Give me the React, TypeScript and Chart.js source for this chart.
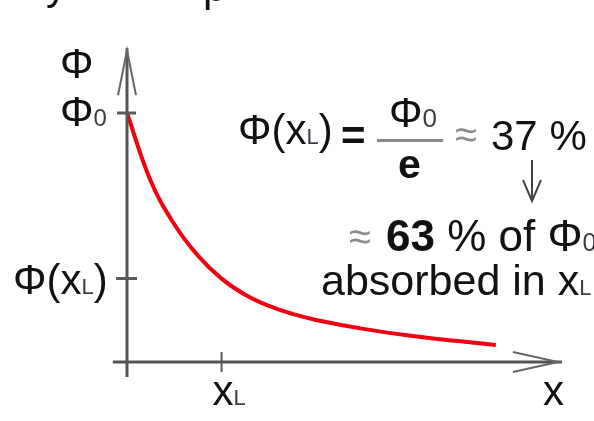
import React, { useEffect, useRef } from "react";
import { Chart, registerables } from "chart.js";

Chart.register(...registerables);

// Penetration depth in units of x_L, and the relative flux Φ/Φ0 at that depth
const depth: number[] = [0, 0.25, 0.5, 0.75, 1, 1.25, 1.5, 1.75, 2, 2.5, 3, 3.5, 3.9];
const flux: number[] = [1.0, 0.728, 0.553, 0.427, 0.335, 0.27, 0.225, 0.193, 0.169, 0.133, 0.105, 0.084, 0.068];

// Where the axis arrows end (data units)
const xAxisRange: number[] = [-0.15, 4.6];
const yAxisRange: number[] = [-0.06, 1.26];

const X_L = 1;

const FONT = '"Liberation Sans", Arial, sans-serif';
const INK = "#111111";
const SUB = "#3c3c48";
const AXIS = "#555555";
const APPROX = "#8c8c8c";

type Run = { t: string; size: number; weight?: string; style?: string; color?: string };

function drawRuns(ctx: CanvasRenderingContext2D, runs: Run[], x: number, y: number) {
  let cx = x;
  for (const r of runs) {
    ctx.font = `${r.style ?? "normal"} ${r.weight ?? "normal"} ${r.size}px ${FONT}`;
    ctx.fillStyle = r.color ?? INK;
    ctx.fillText(r.t, cx, y);
    cx += ctx.measureText(r.t).width;
  }
  return cx;
}

const axesPlugin = {
  id: "physAxes",
  afterDatasetsDraw(chart: any) {
    const ctx: CanvasRenderingContext2D = chart.ctx;
    const xs = chart.scales.x;
    const ys = chart.scales.y;
    const ox = xs.getPixelForValue(0);
    const oy = ys.getPixelForValue(0);
    const xLeft = xs.getPixelForValue(xAxisRange[0]);
    const xRight = xs.getPixelForValue(xAxisRange[1]);
    const yBottom = ys.getPixelForValue(yAxisRange[0]);
    const yTop = ys.getPixelForValue(yAxisRange[1]);

    ctx.save();
    ctx.textBaseline = "alphabetic";
    ctx.lineCap = "butt";

    // axes
    ctx.strokeStyle = AXIS;
    ctx.lineWidth = 3;
    ctx.beginPath();
    ctx.moveTo(xLeft, oy);
    ctx.lineTo(xRight, oy);
    ctx.moveTo(ox, yBottom);
    ctx.lineTo(ox, yTop);
    ctx.stroke();

    // arrow heads
    ctx.lineWidth = 2;
    ctx.strokeStyle = "#666666";
    ctx.beginPath();
    ctx.moveTo(xRight - 49, oy - 10);
    ctx.lineTo(xRight - 4, oy);
    ctx.lineTo(xRight - 49, oy + 10);
    ctx.moveTo(ox - 9, yTop + 47);
    ctx.lineTo(ox, yTop + 2);
    ctx.lineTo(ox + 9, yTop + 47);
    ctx.stroke();

    // ticks at Φ0, Φ(xL) and xL
    const phiXL = flux[depth.indexOf(X_L)];
    const y0 = ys.getPixelForValue(1);
    const yL = ys.getPixelForValue(phiXL);
    const xL = xs.getPixelForValue(X_L);
    ctx.strokeStyle = "#5a5a5a";
    ctx.lineWidth = 3;
    ctx.beginPath();
    ctx.moveTo(ox - 10, y0);
    ctx.lineTo(ox + 9, y0);
    ctx.moveTo(ox - 11, yL);
    ctx.lineTo(ox + 10, yL);
    ctx.stroke();
    ctx.lineWidth = 2;
    ctx.beginPath();
    ctx.moveTo(xL, oy - 10);
    ctx.lineTo(xL, oy + 10);
    ctx.stroke();

    // axis labels
    drawRuns(ctx, [{ t: "Φ", size: 42 }], ox - 67, yTop + 30);
    drawRuns(ctx, [{ t: "Φ", size: 42 }, { t: "0", size: 24, color: SUB }], ox - 67, y0 + 13);
    drawRuns(
      ctx,
      [{ t: "Φ(x", size: 42 }, { t: "L", size: 22, color: SUB }, { t: ")", size: 42 }],
      ox - 114,
      yL + 15
    );
    drawRuns(ctx, [{ t: "x", size: 42 }, { t: "L", size: 22, color: SUB }], xL - 9, oy + 43);
    drawRuns(ctx, [{ t: "x", size: 42 }], xRight - 19, oy + 43);

    // explanation, first line: Φ(xL) = Φ0 / e ≈ 37 %
    drawRuns(
      ctx,
      [{ t: "Φ(x", size: 42 }, { t: "L", size: 22, color: SUB }, { t: ")", size: 42 }],
      238,
      144
    );
    drawRuns(ctx, [{ t: "=", size: 42, weight: "bold" }], 341, 150);
    drawRuns(ctx, [{ t: "Φ", size: 42 }, { t: "0", size: 26, color: SUB }], 389, 127);
    ctx.fillStyle = "#8a8a8a";
    ctx.fillRect(377, 139, 66, 3);
    drawRuns(ctx, [{ t: "e", size: 41, weight: "bold" }], 398, 178);
    drawRuns(ctx, [{ t: "≈", size: 40, color: APPROX }], 455, 148);
    drawRuns(ctx, [{ t: "37 %", size: 42 }], 491, 150);

    // down arrow
    ctx.strokeStyle = "#444444";
    ctx.lineWidth = 2;
    ctx.beginPath();
    ctx.moveTo(532, 160);
    ctx.lineTo(532, 200);
    ctx.moveTo(523, 180);
    ctx.lineTo(532, 201);
    ctx.lineTo(541, 180);
    ctx.stroke();

    // second and third lines
    drawRuns(ctx, [{ t: "≈", size: 40, color: APPROX }], 349, 250);
    drawRuns(
      ctx,
      [
        { t: "63", size: 44, weight: "bold" },
        { t: " % of Φ", size: 44 },
        { t: "0", size: 25, color: SUB },
      ],
      386,
      251
    );
    drawRuns(
      ctx,
      [{ t: "absorbed in x", size: 43 }, { t: "L", size: 22, color: SUB }],
      321,
      295
    );

    // clipped glyphs of the preceding text line
    drawRuns(ctx, [{ t: "y", size: 42 }], 46, -1);
    drawRuns(ctx, [{ t: "p", size: 42 }], 203, 1);

    ctx.restore();
  },
};

export default function App() {
  const canvasRef = useRef<HTMLCanvasElement | null>(null);

  useEffect(() => {
    const canvas = canvasRef.current;
    if (!canvas) return;
    const chart = new Chart(canvas, {
      type: "line",
      data: {
        datasets: [
          {
            data: depth.map((d, i) => ({ x: d, y: flux[i] })),
            borderColor: "#f00010",
            borderWidth: 4,
            pointRadius: 0,
            tension: 0.4,
            fill: false,
          },
        ],
      },
      options: {
        responsive: false,
        animation: false,
        events: [],
        layout: { padding: { left: 127, top: 113, right: 32, bottom: 59 } },
        plugins: { legend: { display: false }, tooltip: { enabled: false } },
        scales: {
          x: { type: "linear", min: 0, max: 4.6, display: false },
          y: { type: "linear", min: 0, max: 1, display: false },
        },
      },
      plugins: [axesPlugin],
    });
    return () => chart.destroy();
  }, []);

  return (
    <div style={{ position: "fixed", left: 0, top: 0, width: 594, height: 421, background: "#ffffff" }}>
      <canvas ref={canvasRef} width={594} height={421} style={{ display: "block" }} />
    </div>
  );
}
